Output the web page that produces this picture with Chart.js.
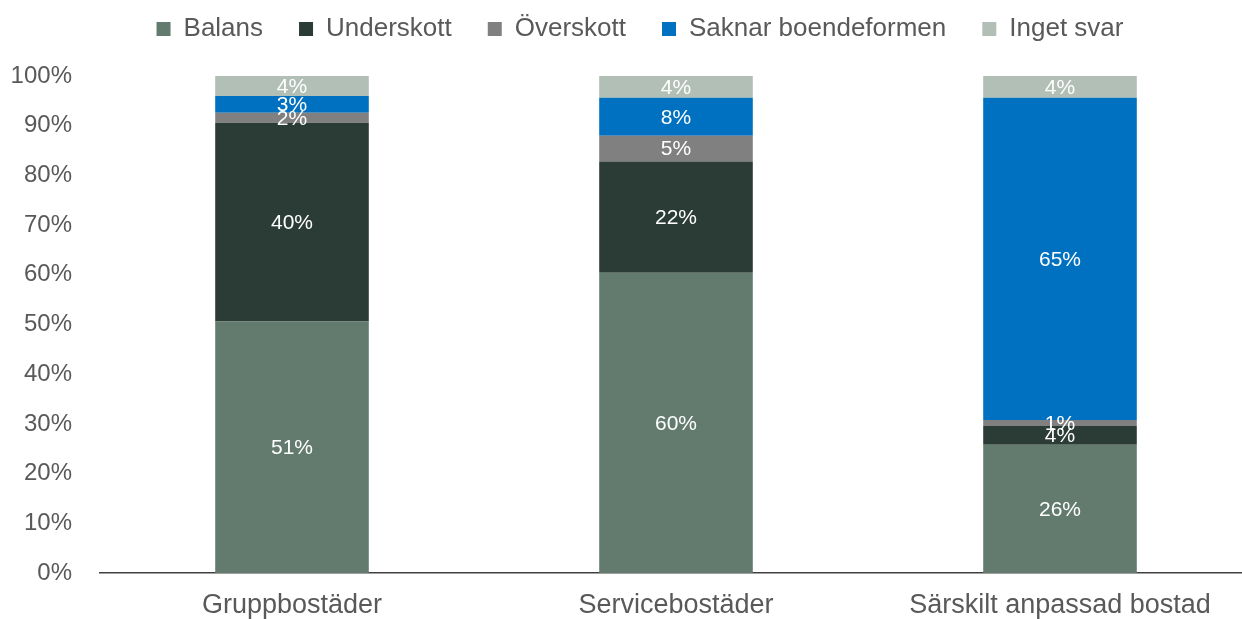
<!DOCTYPE html>
<html lang="sv">
<head>
<meta charset="utf-8">
<script src="https://cdn.jsdelivr.net/npm/chart.js@4/dist/chart.umd.min.js"></script>
<style>
  html, body { margin: 0; padding: 0; background: #fff; overflow: hidden; }
  #wrap { width: 1242px; height: 619px; overflow: hidden; }
</style>
</head>
<body>
<div id="wrap"><canvas id="chart" width="1252" height="619"></canvas></div>
<script>
const categories = ["Gruppbostäder", "Servicebostäder", "Särskilt anpassad bostad"];
const balans = [50.6, 60.4, 25.8];
const underskott = [40.0, 22.4, 3.8];
const overskott = [2.0, 5.2, 1.2];
const saknar = [3.4, 7.6, 64.8];
const ingetSvar = [4.0, 4.4, 4.4];
const yTicks = [0, 10, 20, 30, 40, 50, 60, 70, 80, 90, 100];

const font = "'Liberation Sans', Arial, sans-serif";

// etiketter mitt i varje stapeldel
const barLabels = {
    id: "barLabels",
    afterDatasetsDraw(chart) {
        const ctx = chart.ctx;
        ctx.save();
        ctx.fillStyle = "#ffffff";
        ctx.font = "21px " + font;
        ctx.textAlign = "center";
        ctx.textBaseline = "middle";
        chart.data.datasets.forEach((ds, i) => {
            const meta = chart.getDatasetMeta(i);
            meta.data.forEach((bar, j) => {
                const v = ds.data[j];
                ctx.fillText(Math.round(v) + "%", bar.x, (bar.y + bar.base) / 2 + 1);
            });
        });
        ctx.restore();
    }
};

// mer luft under legenden, och flytta den lite åt höger
const legendSpace = {
    id: "legendSpace",
    beforeInit(chart) {
        const fit = chart.legend.fit;
        chart.legend.fit = function () {
            fit.bind(chart.legend)();
            this.height += 24;
        };
    },
    afterLayout(chart) {
        chart.legend.left += 14;
        chart.legend.right += 14;
    }
};

new Chart(document.getElementById("chart"), {
    type: "bar",
    data: {
        labels: categories,
        datasets: [
            { label: "Balans", data: balans, backgroundColor: "#637a6f" },
            { label: "Underskott", data: underskott, backgroundColor: "#2b3b35" },
            { label: "Överskott", data: overskott, backgroundColor: "#808080" },
            { label: "Saknar boendeformen", data: saknar, backgroundColor: "#0070c0" },
            { label: "Inget svar", data: ingetSvar, backgroundColor: "#b1bfb7" }
        ]
    },
    options: {
        responsive: false,
        animation: false,
        devicePixelRatio: 1,
        barPercentage: 0.4,
        categoryPercentage: 1,
        layout: { padding: { left: 0, right: 0, top: -20, bottom: 0 } },
        plugins: {
            tooltip: { enabled: false },
            legend: {
                position: "top",
                labels: {
                    boxWidth: 14,
                    boxHeight: 14,
                    padding: 36,
                    color: "#595959",
                    font: { family: font, size: 26 }
                }
            }
        },
        scales: {
            x: {
                stacked: true,
                afterFit: axis => { axis.height = 46; },
                grid: { display: false, drawTicks: false },
                border: { display: true, color: "#404040", width: 1.5 },
                ticks: {
                    color: "#595959",
                    padding: 16,
                    font: { family: font, size: 27 }
                }
            },
            y: {
                stacked: true,
                min: 0,
                max: 100,
                afterFit: axis => { axis.width = 100; },
                afterBuildTicks: axis => { axis.ticks = yTicks.map(v => ({ value: v })); },
                grid: { display: false, drawTicks: false },
                border: { display: false },
                ticks: {
                    color: "#595959",
                    padding: 28,
                    callback: v => v + "%",
                    font: { family: font, size: 24 }
                }
            }
        }
    },
    plugins: [barLabels, legendSpace]
});
</script>
</body>
</html>
